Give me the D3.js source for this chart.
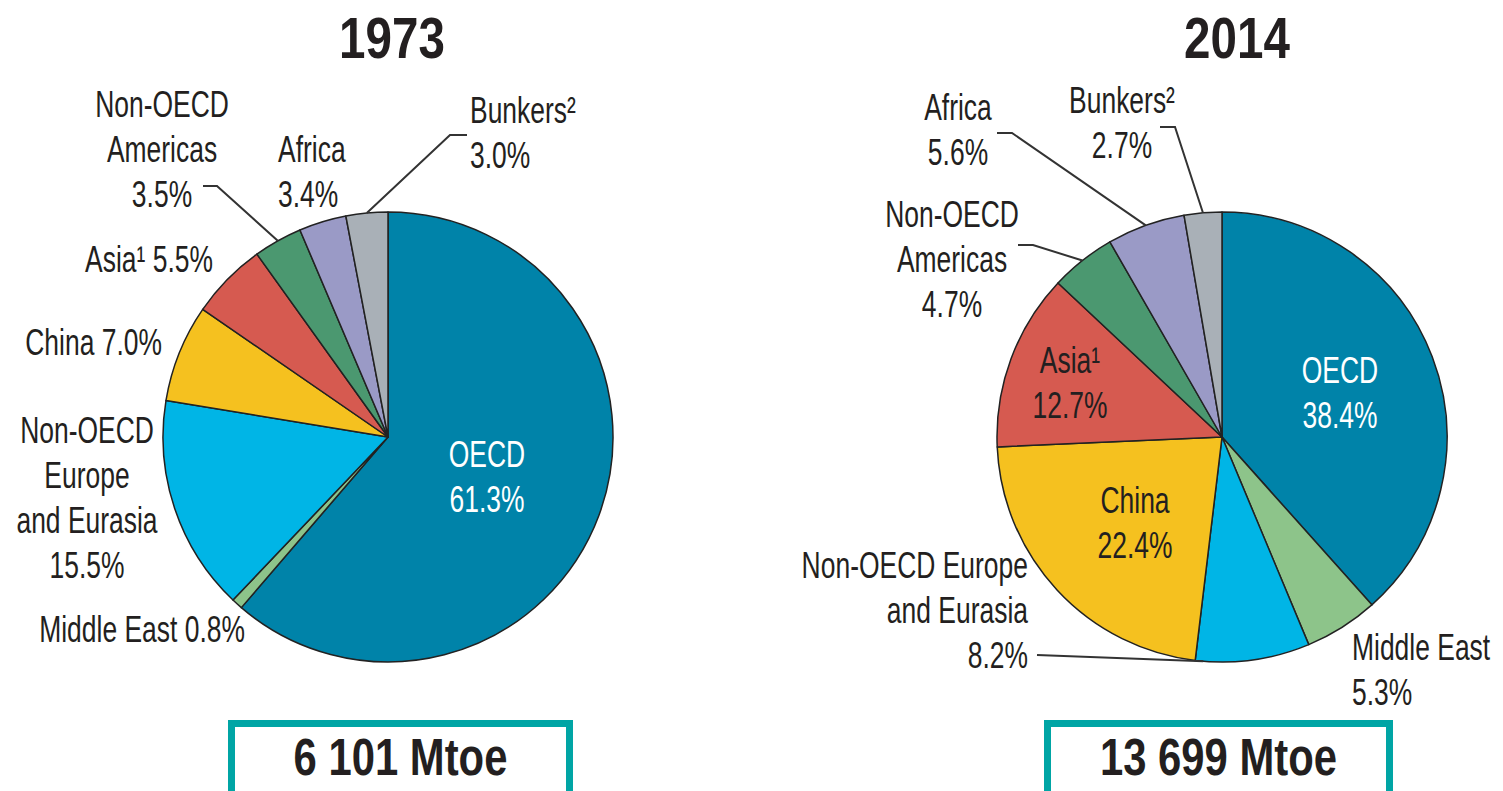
<!DOCTYPE html>
<html>
<head>
<meta charset="utf-8">
<script src="https://cdn.jsdelivr.net/npm/d3@7"></script>
<style>
  body { margin: 0; background: #fff; }
  svg text { font-family: "Liberation Sans Narrow", "Arial Narrow", "Liberation Sans", Arial, sans-serif; fill: #231f20; }
</style>
</head>
<body>
<div id="chart" style="width:1503px;height:791px;"></div>
<script>
// data
const regions = ["OECD", "Middle East", "Non-OECD Europe and Eurasia", "China", "Asia¹", "Non-OECD Americas", "Africa", "Bunkers²"];
const shares1973 = [61.3, 0.8, 15.5, 7.0, 5.5, 3.5, 3.4, 3.0];
const shares2014 = [38.4, 5.3, 8.2, 22.4, 12.7, 4.7, 5.6, 2.7];
const years = ["1973", "2014"];
const totals = ["6 101 Mtoe", "13 699 Mtoe"];

const colors = ["#0083a9", "#8dc48a", "#00b5e6", "#f5c11f", "#d65a50", "#4b9870", "#9a9ac6", "#a9b0b7"];

// label placement per pie (index into regions)
const layout1973 = [
  {i: 0, lines: ["OECD"], x: 487, y: 467, anchor: "middle", color: "#fff"},
  {i: 1, lines: ["Middle East"], inline: true, x: 245, y: 642, anchor: "end"},
  {i: 2, lines: ["Non-OECD", "Europe", "and Eurasia"], x: 87, y: 443, anchor: "middle"},
  {i: 3, lines: ["China"], inline: true, x: 162, y: 355, anchor: "end"},
  {i: 4, lines: ["Asia¹"], inline: true, x: 213, y: 272, anchor: "end"},
  {i: 5, lines: ["Non-OECD", "Americas"], x: 162, y: 117, anchor: "middle", leader: [[203, 186], [217, 186]]},
  {i: 6, lines: ["Africa"], x: 278, y: 162, anchor: "start"},
  {i: 7, lines: ["Bunkers²"], x: 470, y: 123, anchor: "start", leader: [[467, 135], [450, 135]]}
];
const layout2014 = [
  {i: 0, lines: ["OECD"], x: 1340, y: 383, anchor: "middle", color: "#fff"},
  {i: 1, lines: ["Middle East"], x: 1352, y: 660, anchor: "start"},
  {i: 2, lines: ["Non-OECD Europe", "and Eurasia"], x: 1028, y: 578, anchor: "end", leader: [[1037, 655]], at: 0.93},
  {i: 3, lines: ["China"], x: 1135, y: 513, anchor: "middle"},
  {i: 4, lines: ["Asia¹"], x: 1070, y: 373, anchor: "middle"},
  {i: 5, lines: ["Non-OECD", "Americas"], x: 952, y: 227, anchor: "middle", leader: [[1018, 245], [1033, 245]]},
  {i: 6, lines: ["Africa"], x: 958, y: 120, anchor: "middle", leader: [[997, 133], [1012, 133]]},
  {i: 7, lines: ["Bunkers²"], x: 1122, y: 113, anchor: "middle", leader: [[1160, 127], [1175, 127]]}
];

const pies = [
  {year: years[0], total: totals[0], values: shares1973, layout: layout1973, cx: 388, cy: 437, titleX: 392, boxX: 228, boxW: 345},
  {year: years[1], total: totals[1], values: shares2014, layout: layout2014, cx: 1222, cy: 437, titleX: 1237, boxX: 1044, boxW: 349}
];

const radius = 225;
const lineH = 45;
const squeeze = 0.715;   // labels are strongly condensed
const boldSqueeze = 0.82;
const fmt = d => d3.format(".1f")(d) + "%";

const svg = d3.select("#chart").append("svg")
    .attr("width", 1503)
    .attr("height", 791);

const pie = d3.pie().sort(null).value(d => d);
const arc = d3.arc().innerRadius(0).outerRadius(radius);

pies.forEach(p => {
    const arcs = pie(p.values);
    const g = svg.append("g").attr("transform", `translate(${p.cx}, ${p.cy})`);

    g.selectAll("path")
        .data(arcs)
        .enter()
        .append("path")
        .attr("d", arc)
        .attr("fill", (d, i) => colors[i])
        .attr("stroke", "#222")
        .attr("stroke-width", 1.5)
        .attr("stroke-linejoin", "round");

    // title
    svg.append("text")
        .attr("transform", `translate(${p.titleX}, 58) scale(${boldSqueeze}, 1)`)
        .attr("text-anchor", "middle")
        .attr("font-size", 58)
        .attr("font-weight", "bold")
        .text(p.year);

    // labels
    p.layout.forEach(l => {
        const v = fmt(p.values[l.i]);
        const lines = l.inline
            ? l.lines.slice(0, -1).concat([l.lines[l.lines.length - 1] + " " + v])
            : l.lines.concat([v]);
        const t = svg.append("text")
            .attr("transform", `translate(${l.x}, ${l.y}) scale(${squeeze}, 1)`)
            .attr("text-anchor", l.anchor)
            .attr("font-size", 37)
            .style("fill", l.color || "#231f20");
        lines.forEach((s, k) => {
            t.append("tspan").attr("x", 0).attr("y", k * lineH).text(s);
        });

        if (l.leader) {
            const a = arcs[l.i];
            const f = l.at == null ? 0.5 : l.at;
            const ang = a.startAngle + (a.endAngle - a.startAngle) * f;
            const end = [p.cx + radius * Math.sin(ang), p.cy - radius * Math.cos(ang)];
            svg.append("path")
                .attr("d", d3.line()(l.leader.concat([end])))
                .attr("fill", "none")
                .attr("stroke", "#333")
                .attr("stroke-width", 2);
        }
    });

    // total box
    svg.append("rect")
        .attr("x", p.boxX + 3.5)
        .attr("y", 723.5)
        .attr("width", p.boxW - 7)
        .attr("height", 80)
        .attr("fill", "#fff")
        .attr("stroke", "#00a5a5")
        .attr("stroke-width", 7);

    svg.append("text")
        .attr("transform", `translate(${p.boxX + p.boxW / 2}, 775) scale(${boldSqueeze}, 1)`)
        .attr("text-anchor", "middle")
        .attr("font-size", 51)
        .attr("font-weight", "bold")
        .text(p.total);
});
</script>
</body>
</html>
